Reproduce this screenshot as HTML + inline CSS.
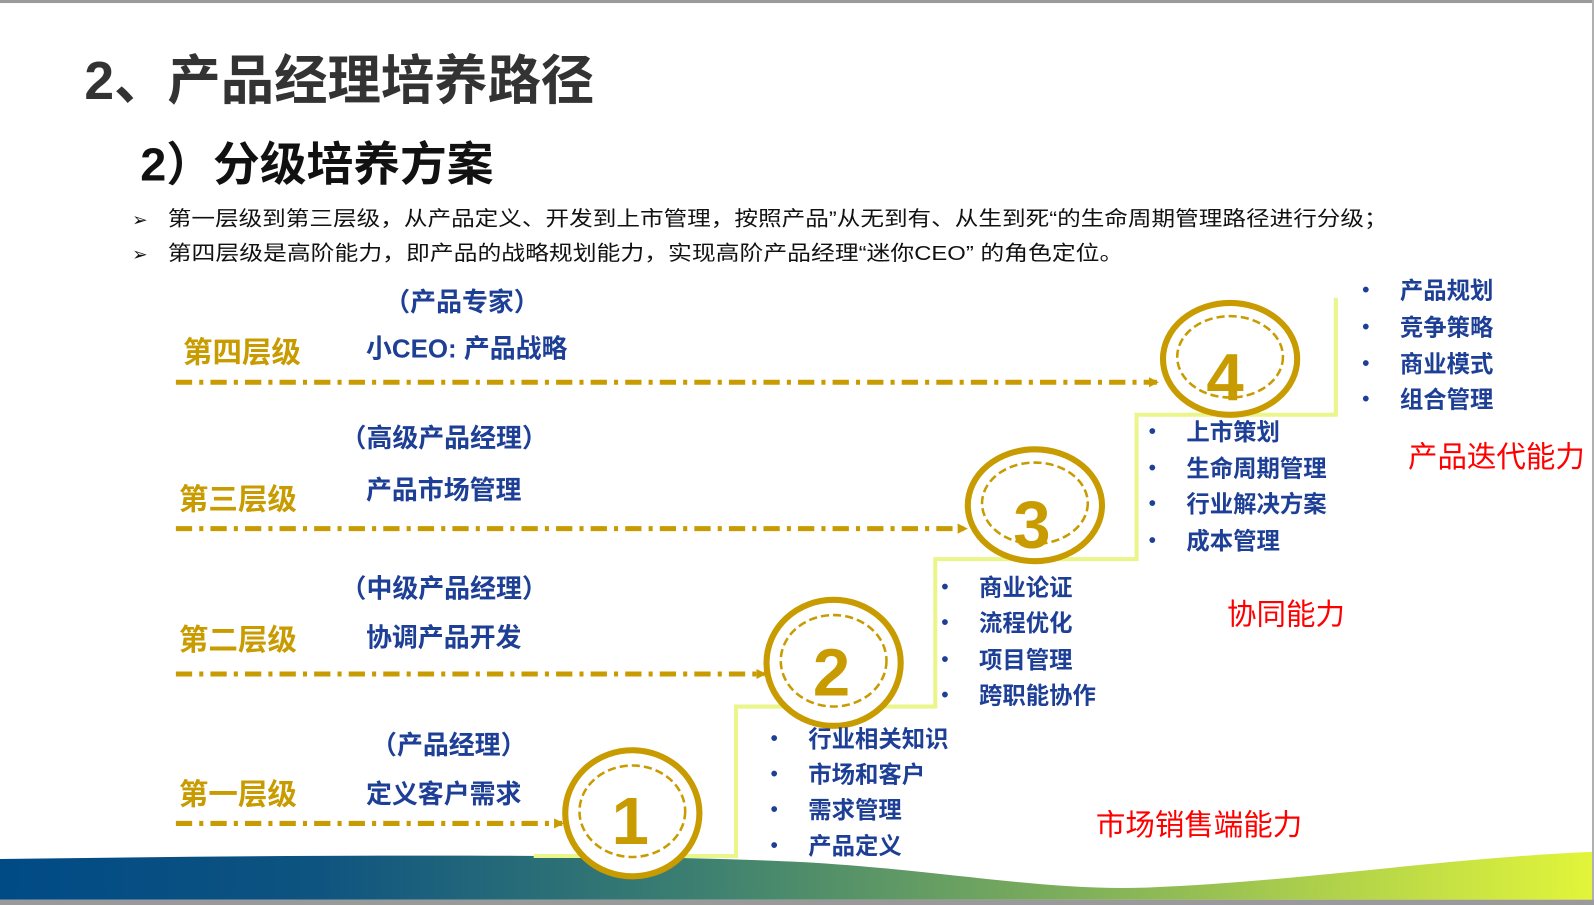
<!DOCTYPE html>
<html><head><meta charset="utf-8"><style>
html,body{margin:0;padding:0;background:#fff;overflow:hidden}
svg{display:block}
text{font-family:"Liberation Sans","Noto Sans CJK SC",sans-serif;dominant-baseline:central}
.g{fill:#c89b00;font-weight:bold;font-size:29px}
.b{fill:#1e3f96;font-weight:bold;font-size:25.5px}
.l{fill:#1e3f96;font-weight:bold;font-size:23px}
.d{fill:#1e3f96;font-size:20px;font-weight:bold}
.r{fill:#ff0000;font-size:29px}
</style></head><body>
<svg width="1594" height="905" viewBox="0 0 1594 905" xmlns="http://www.w3.org/2000/svg">
<defs>
<linearGradient id="bg" x1="0" x2="1" y1="0" y2="0">
<stop offset="0" stop-color="#004a86"/><stop offset="0.2" stop-color="#0e5480"/>
<stop offset="0.45" stop-color="#3f8270"/><stop offset="0.7" stop-color="#86b458"/>
<stop offset="1" stop-color="#e2f53a"/></linearGradient>
<marker id="ar" markerWidth="10" markerHeight="10" refX="8" refY="5" orient="auto" markerUnits="userSpaceOnUse">
<path d="M0,0 L10,5 L0,10 Z" fill="#c89b00"/></marker>
</defs>
<g transform="scale(1.0166)">
<rect x="0" y="0" width="1570" height="3" fill="#9a9a9a"/>
<rect x="1566" y="0" width="2" height="890" fill="#b0b0b0"/>
<path d="M0,845 C300,841 600,839 790,848 C930,856 1030,877 1130,873 C1280,867 1420,844 1566,838 L1566,885 L0,885 Z" fill="url(#bg)"/>
<rect x="0" y="885" width="1568" height="6" fill="#9a9a9a"/>

<text x="83" y="80" style="font-size:52.5px;font-weight:bold;fill:#333">2、产品经理培养路径</text>
<text x="138" y="162" style="font-size:46px;font-weight:bold;fill:#111">2）分级培养方案</text>
<text x="130" y="216" style="font-size:18px;fill:#111">➢</text>
<text x="165" y="216" style="font-size:20px;fill:#111" textLength="1200" lengthAdjust="spacingAndGlyphs">第一层级到第三层级，从产品定义、开发到上市管理，按照产品”从无到有、从生到死“的生命周期管理路径进行分级；</text>
<text x="130" y="250" style="font-size:18px;fill:#111">➢</text>
<text x="165" y="250" style="font-size:20px;fill:#111" textLength="940" lengthAdjust="spacingAndGlyphs">第四层级是高阶能力，即产品的战略规划能力，实现高阶产品经理“迷你CEO” 的角色定位。</text>

<path d="M525,842 H724 V695 H920 V550 H1118 V408 H1314 V293" fill="none" stroke="#eaf58a" stroke-width="4"/>

<g stroke="#c89b00" stroke-width="5" stroke-dasharray="16,7,4,7" fill="none">
<line x1="173" y1="376" x2="1138" y2="376" marker-end="url(#ar)"/>
<line x1="173" y1="520" x2="950" y2="520" marker-end="url(#ar)"/>
<line x1="173" y1="663" x2="752" y2="663" marker-end="url(#ar)"/>
<line x1="173" y1="810" x2="553" y2="810" marker-end="url(#ar)"/>
</g>

<g fill="#fff" stroke="#c89b00">
<ellipse cx="622" cy="800" rx="66" ry="62" stroke-width="6"/>
<ellipse cx="622" cy="798" rx="52" ry="45" stroke-width="2.5" stroke-dasharray="8,4" fill="none"/>
<ellipse cx="820" cy="652" rx="66" ry="62" stroke-width="6"/>
<ellipse cx="820" cy="650" rx="52" ry="45" stroke-width="2.5" stroke-dasharray="8,4" fill="none"/>
<ellipse cx="1018" cy="497" rx="66" ry="55" stroke-width="6"/>
<ellipse cx="1018" cy="495" rx="52" ry="40" stroke-width="2.5" stroke-dasharray="8,4" fill="none"/>
<ellipse cx="1210" cy="353" rx="66" ry="55" stroke-width="6"/>
<ellipse cx="1210" cy="351" rx="52" ry="40" stroke-width="2.5" stroke-dasharray="8,4" fill="none"/>
</g>
<g style="font-size:66px;font-weight:bold;fill:#c89b00" text-anchor="middle">
<text x="620" y="808">1</text><text x="818" y="662">2</text>
<text x="1015" y="517">3</text><text x="1205" y="372">4</text>
</g>

<text class="g" x="180" y="347">第四层级</text>
<text class="g" x="176" y="492">第三层级</text>
<text class="g" x="176" y="630">第二层级</text>
<text class="g" x="176" y="782">第一层级</text>

<text class="b" x="378" y="298">（产品专家）</text>
<text class="b" x="360" y="344">小CEO: 产品战略</text>
<text class="b" x="335" y="432">（高级产品经理）</text>
<text class="b" x="360" y="483">产品市场管理</text>
<text class="b" x="335" y="580">（中级产品经理）</text>
<text class="b" x="360" y="628">协调产品开发</text>
<text class="b" x="365" y="734">（产品经理）</text>
<text class="b" x="360" y="782">定义客户需求</text>

<g>
<text class="d" x="758" y="727">•</text><text class="l" x="795" y="727">行业相关知识</text>
<text class="d" x="758" y="762">•</text><text class="l" x="795" y="762">市场和客户</text>
<text class="d" x="758" y="797">•</text><text class="l" x="795" y="797">需求管理</text>
<text class="d" x="758" y="832">•</text><text class="l" x="795" y="832">产品定义</text>

<text class="d" x="926" y="578">•</text><text class="l" x="963" y="578">商业论证</text>
<text class="d" x="926" y="613">•</text><text class="l" x="963" y="613">流程优化</text>
<text class="d" x="926" y="649">•</text><text class="l" x="963" y="649">项目管理</text>
<text class="d" x="926" y="684">•</text><text class="l" x="963" y="684">跨职能协作</text>

<text class="d" x="1130" y="425">•</text><text class="l" x="1167" y="425">上市策划</text>
<text class="d" x="1130" y="461">•</text><text class="l" x="1167" y="461">生命周期管理</text>
<text class="d" x="1130" y="496">•</text><text class="l" x="1167" y="496">行业解决方案</text>
<text class="d" x="1130" y="532">•</text><text class="l" x="1167" y="532">成本管理</text>

<text class="d" x="1340" y="286">•</text><text class="l" x="1377" y="286">产品规划</text>
<text class="d" x="1340" y="322">•</text><text class="l" x="1377" y="322">竞争策略</text>
<text class="d" x="1340" y="358">•</text><text class="l" x="1377" y="358">商业模式</text>
<text class="d" x="1340" y="393">•</text><text class="l" x="1377" y="393">组合管理</text>
</g>

<text class="r" x="1385" y="450">产品迭代能力</text>
<text class="r" x="1207" y="605">协同能力</text>
<text class="r" x="1078" y="812">市场销售端能力</text>
</g>
</svg>
</body></html>
